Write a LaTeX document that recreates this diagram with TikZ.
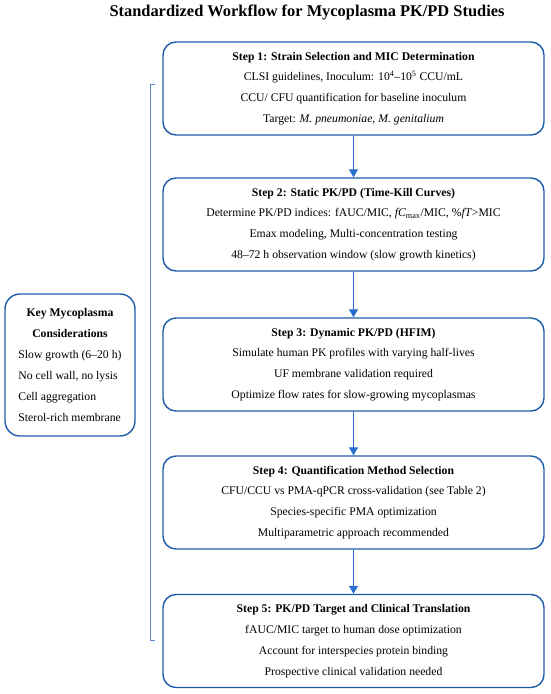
\documentclass[tikz,border=0pt]{standalone}
\usepackage{fontspec}
\setmainfont{Liberation Serif}
\usetikzlibrary{arrows.meta}
\definecolor{boxblue}{RGB}{30,92,170}
\definecolor{arrblue}{RGB}{40,110,205}
\definecolor{brblue}{RGB}{90,135,200}
\tikzset{
  stepbox/.style={draw=boxblue, line width=1.4pt, rounded corners=13pt, minimum width=381pt, minimum height=93pt, align=center, inner sep=0pt, font=\fontsize{11.7}{20.8}\selectfont},
  keybox/.style={draw=boxblue, line width=1.4pt, rounded corners=15pt, minimum width=130pt, minimum height=142pt, inner sep=0pt, font=\fontsize{11.7}{21}\selectfont},
  flowarrow/.style={draw=arrblue, line width=1.3pt, -{Triangle[length=8pt,width=9pt]}},
  bracket/.style={draw=brblue, line width=0.8pt},
}
\begin{document}
\begin{tikzpicture}[x=1pt,y=-1pt]
\useasboundingbox (0,0) rectangle (550,694);
\node[font=\fontsize{16.4}{19}\selectfont\bfseries] (title) at (307,12) {Standardized Workflow for Mycoplasma PK/PD Studies};

\node[stepbox] (s1) at (353.5,88.5) {\textbf{Step 1: Strain Selection and MIC Determination}\\
CLSI guidelines, Inoculum: 10\textsuperscript{4}–10\textsuperscript{5} CCU/mL\\
CCU/ CFU quantification for baseline inoculum\\
Target: \textit{M. pneumoniae, M. genitalium}};

\node[stepbox] (s2) at (353.5,224.5) {\textbf{Step 2: Static PK/PD (Time-Kill Curves)}\\
Determine PK/PD indices: fAUC/MIC, \textit{fC}\textsubscript{max}/MIC, \%\textit{fT}>MIC\\
Emax modeling, Multi-concentration testing\\
48–72 h observation window (slow growth kinetics)};

\node[stepbox] (s3) at (353.5,364.5) {\textbf{Step 3: Dynamic PK/PD (HFIM)}\\
Simulate human PK profiles with varying half-lives\\
UF membrane validation required\\
Optimize flow rates for slow-growing mycoplasmas};

\node[stepbox] (s4) at (353.5,502.5) {\textbf{Step 4: Quantification Method Selection}\\
CFU/CCU vs PMA-qPCR cross-validation (see Table 2)\\
Species-specific PMA optimization\\
Multiparametric approach recommended};

\node[stepbox] (s5) at (353.5,641) {\textbf{Step 5: PK/PD Target and Clinical Translation}\\
fAUC/MIC target to human dose optimization\\
Account for interspecies protein binding\\
Prospective clinical validation needed};

\node[keybox] (key) at (70,365) {\begin{tabular}{@{}l@{}}
\multicolumn{1}{@{}c@{}}{\textbf{Key Mycoplasma}}\\
\multicolumn{1}{@{}c@{}}{\textbf{Considerations}}\\
Slow growth (6–20 h)\\
No cell wall, no lysis\\
Cell aggregation\\
Sterol-rich membrane
\end{tabular}};

\draw[flowarrow] (s1) -- (s2);
\draw[flowarrow] (s2) -- (s3);
\draw[flowarrow] (s3) -- (s4);
\draw[flowarrow] (s4) -- (s5);

\coordinate (btop) at (155,84);
\coordinate (bbot) at (155,640);
\draw[bracket] (btop) -- (150,84) -- (150,640) -- (bbot);
\end{tikzpicture}
\end{document}
